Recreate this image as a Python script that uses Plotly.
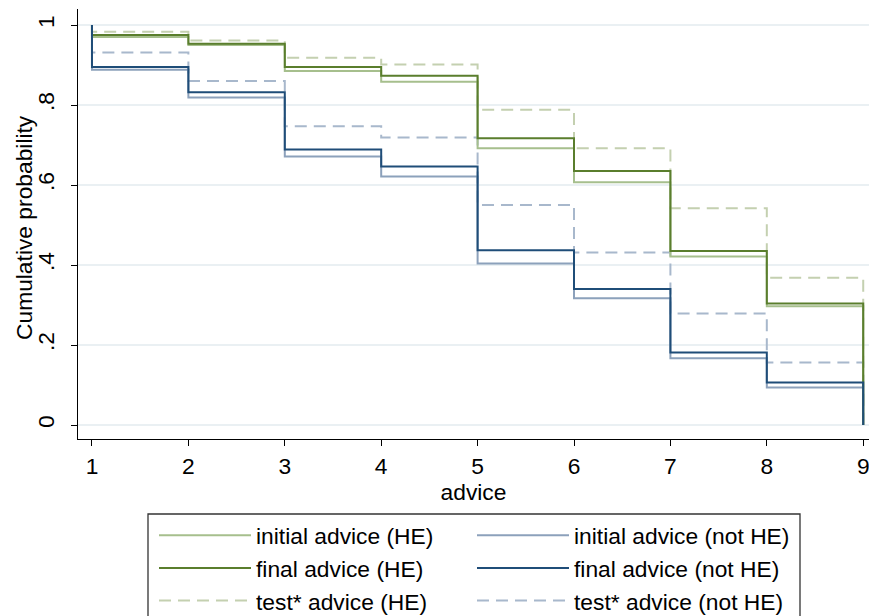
import plotly.graph_objects as go

# advice levels (x) and cumulative probability step levels on [k, k+1)
advice = [1, 2, 3, 4, 5, 6, 7, 8, 9]
start_prob = 1.0
end_prob = 0.0

initial_he = [0.970, 0.950, 0.885, 0.858, 0.692, 0.607, 0.421, 0.297]
final_he = [0.975, 0.953, 0.895, 0.873, 0.717, 0.635, 0.435, 0.304]
test_he = [0.983, 0.961, 0.918, 0.901, 0.788, 0.692, 0.542, 0.368]
initial_nhe = [0.888, 0.819, 0.671, 0.621, 0.404, 0.317, 0.167, 0.094]
final_nhe = [0.895, 0.832, 0.689, 0.646, 0.437, 0.340, 0.181, 0.106]
test_nhe = [0.931, 0.860, 0.747, 0.719, 0.550, 0.431, 0.279, 0.156]

yticks = [0, 0.2, 0.4, 0.6, 0.8, 1]
yticklabels = ["0", ".2", ".4", ".6", ".8", "1"]

FONT = "Liberation Sans, Arial, sans-serif"
FS = 22.8

series = [
    ("initial advice (HE)", initial_he, "#a6bf8d", "solid", "legend", 1),
    ("initial advice (not HE)", initial_nhe, "#8ca1bb", "solid", "legend2", 1),
    ("final advice (HE)", final_he, "#5a7e2d", "solid", "legend", 2),
    ("final advice (not HE)", final_nhe, "#1f4d78", "solid", "legend2", 2),
    ("test* advice (HE)", test_he, "#c4d0b0", "12px,7px", "legend", 3),
    ("test* advice (not HE)", test_nhe, "#a8b8cc", "12px,7px", "legend2", 3),
]

def step_xy(levels):
    xs = [advice[0]] + advice[:-1] + [advice[-1]]
    ys = [start_prob] + list(levels) + [end_prob]
    return xs, ys

fig = go.Figure()
draw_order = [4, 5, 0, 1, 2, 3]
for i in draw_order:
    name, vals, col, dash, leg, rank = series[i]
    xs, ys = step_xy(vals)
    fig.add_trace(go.Scatter(
        x=xs, y=ys, mode="lines", name=name,
        line=dict(color=col, width=2, dash=dash, shape="hv"),
        legend=leg, legendrank=rank, legendgroup=name,
    ))

L, R, T, B = 78, 869, 9, 439
W = R - L
H = B - T

def px(p):
    return (p - L) / W

def py(q):
    return (B - q) / H

fig.update_layout(
    width=869, height=616,
    margin=dict(l=L, r=869 - R, t=T, b=616 - B, autoexpand=False),
    paper_bgcolor="white", plot_bgcolor="white",
    font=dict(family=FONT, size=FS, color="black"),
    showlegend=True,
    legend=dict(x=px(154), y=py(514), xanchor="left", yanchor="top",
                bgcolor="rgba(0,0,0,0)", borderwidth=0, itemwidth=92,
                tracegroupgap=0, font=dict(size=FS), traceorder="grouped"),
    legend2=dict(x=px(472), y=py(514), xanchor="left", yanchor="top",
                 bgcolor="rgba(0,0,0,0)", borderwidth=0, itemwidth=92,
                 tracegroupgap=0, font=dict(size=FS), traceorder="grouped"),
)

fig.add_shape(type="rect", xref="paper", yref="paper",
              x0=px(148), x1=px(800), y0=py(514), y1=py(640),
              line=dict(color="#333333", width=1.3), fillcolor="rgba(0,0,0,0)")

fig.add_annotation(text="Cumulative probability", xref="paper", yref="paper",
                   x=px(24), y=py(228), xanchor="center", yanchor="middle",
                   textangle=-90, showarrow=False, font=dict(size=FS))

fig.update_xaxes(
    range=[0.855, 9.06], tickmode="array", tickvals=advice,
    ticks="outside", ticklen=6, tickcolor="black", tickwidth=1,
    showline=True, linecolor="black", linewidth=1.3, showgrid=False,
    zeroline=False, title=dict(text="advice", font=dict(size=FS), standoff=2),
    tickfont=dict(size=FS), ticklabeloverflow="allow",
)
fig.update_yaxes(
    range=[-0.035, 1.04], tickmode="array", tickvals=yticks, ticktext=yticklabels,
    tickangle=-90, ticks="outside", ticklen=6, tickcolor="black", tickwidth=1,
    showline=True, linecolor="black", linewidth=1.3, ticklabelstandoff=8,
    showgrid=True, gridcolor="#eaf0f3", gridwidth=1.5, zeroline=False,
    tickfont=dict(size=FS), ticklabeloverflow="allow",
)

fig.write_html("out.html", config={"displayModeBar": False},
               post_script="document.body.style.margin='0';")
